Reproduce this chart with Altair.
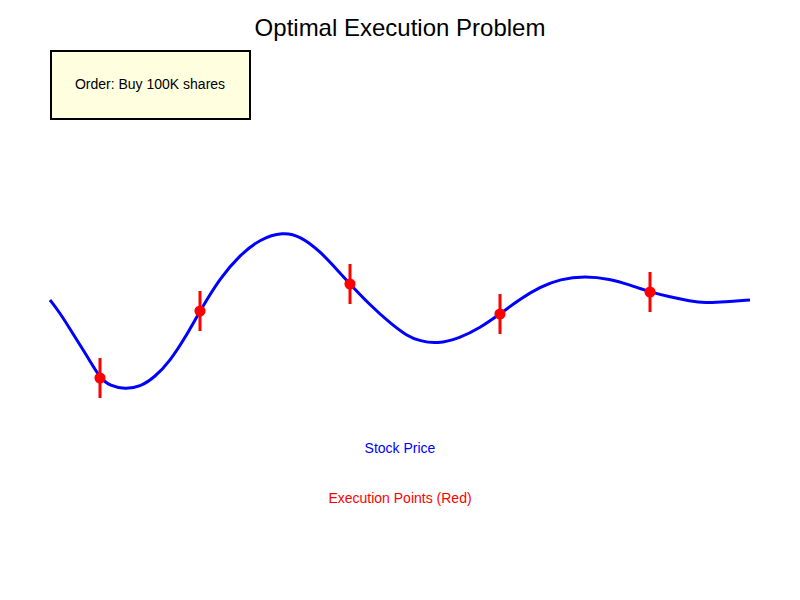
import altair as alt
import pandas as pd

# Stock price curve (pixel-space readings from the reference)
curve_x = [50, 60, 70, 80, 90, 100, 110, 125, 140, 155, 170, 185, 200, 220, 240, 260, 283, 300, 320, 340, 350, 370, 390,
           407, 420, 437, 460, 480, 500, 520, 540, 560, 585, 610, 630, 650, 670, 690, 705, 725, 750]
curve_y = [300, 313, 329, 345, 361, 378, 386, 389, 387, 377, 361, 338, 311, 278, 255, 239, 232, 236, 251, 273, 284, 305, 323,
           336, 341, 344, 338, 328, 314, 299, 287, 279, 276, 279, 285, 292, 297, 301, 303, 302, 300]

# Execution points
exec_x = [100, 200, 350, 500, 650]
exec_y = [378, 311, 284, 314, 292]
exec_half = 20

labels = ["Optimal Execution Problem", "Order: Buy 100K shares", "Stock Price", "Execution Points (Red)"]

X = alt.Scale(domain=[0, 800], range=[0, 800])
Y = alt.Scale(domain=[0, 600], range=[0, 600])

curve_df = pd.DataFrame({"x": curve_x, "y": curve_y})
exec_df = pd.DataFrame({"x": exec_x, "y": exec_y,
                        "y1": [v - exec_half for v in exec_y],
                        "y2": [v + exec_half for v in exec_y]})
box_df = pd.DataFrame({"x": [51], "x2": [250], "y": [51], "y2": [119]})

font = "Liberation Sans"

box = alt.Chart(box_df).mark_rect(fill="#ffffe0", stroke="black", strokeWidth=2).encode(
    x=alt.X("x:Q", scale=X, axis=None), x2="x2:Q",
    y=alt.Y("y:Q", scale=Y, axis=None), y2="y2:Q")

line = alt.Chart(curve_df).mark_line(color="#0000ff", strokeWidth=3, interpolate="basis").encode(
    x=alt.X("x:Q", scale=X, axis=None), y=alt.Y("y:Q", scale=Y, axis=None))

rules = alt.Chart(exec_df).mark_rule(color="#ff0000", strokeWidth=3).encode(
    x=alt.X("x:Q", scale=X, axis=None), y=alt.Y("y1:Q", scale=Y, axis=None), y2="y2:Q")

dots = alt.Chart(exec_df).mark_circle(color="#ff0000", opacity=1, size=125).encode(
    x=alt.X("x:Q", scale=X, axis=None), y=alt.Y("y:Q", scale=Y, axis=None))

def txt(label, x, y, size, color):
    df = pd.DataFrame({"x": [x], "y": [y], "t": [label]})
    return alt.Chart(df).mark_text(font=font, fontSize=size, color=color, align="center", baseline="middle").encode(
        x=alt.X("x:Q", scale=X, axis=None), y=alt.Y("y:Q", scale=Y, axis=None), text="t:N")

chart = alt.layer(
    box, line, rules, dots,
    txt(labels[0], 400, 29, 24, "black"),
    txt(labels[1], 150, 85, 14, "black"),
    txt(labels[2], 400, 449, 14, "#0000ff"),
    txt(labels[3], 400, 499, 14, "#ff0000"),
).properties(width=800, height=600, padding=0, autosize=alt.AutoSizeParams(type="none")).configure_view(stroke=None)

chart.save("out.html", embed_options={"renderer": "svg", "actions": False})
